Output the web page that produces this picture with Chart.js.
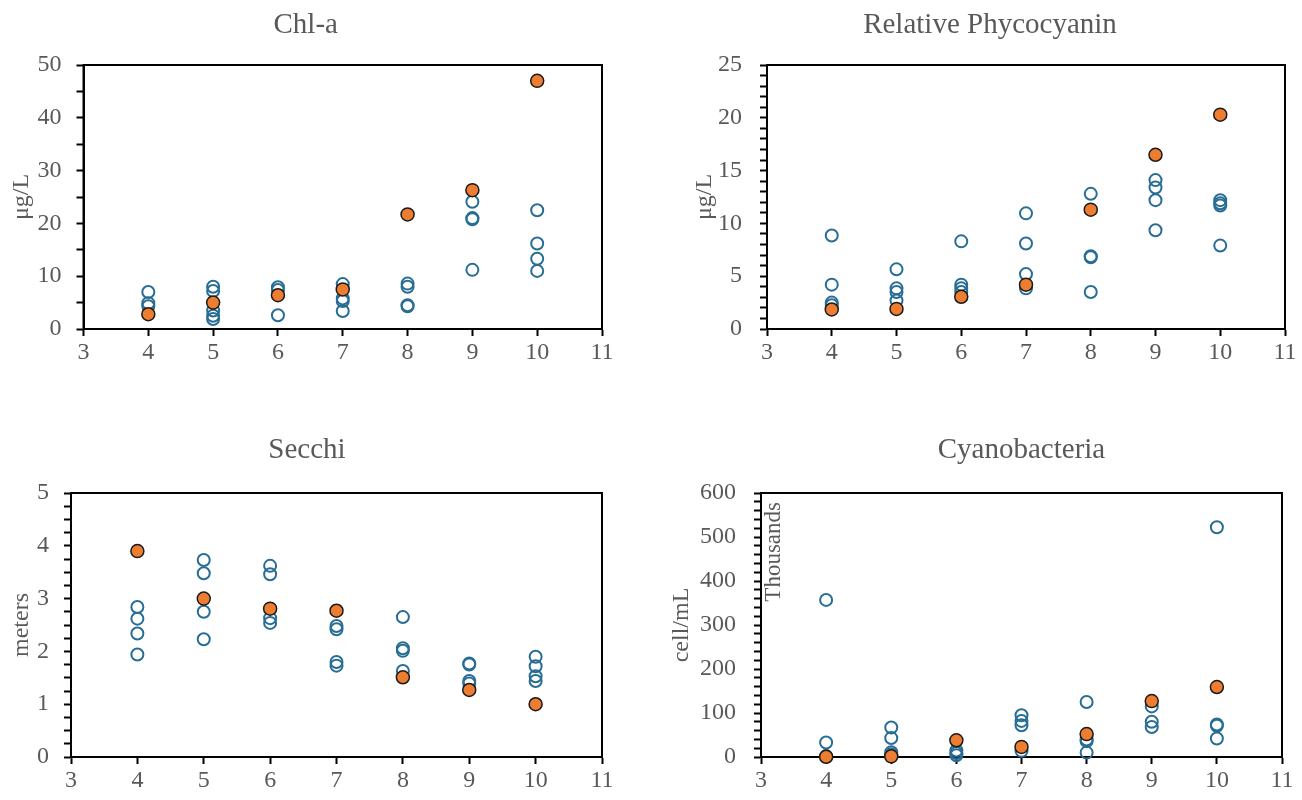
<!DOCTYPE html>
<html>
<head>
<meta charset="utf-8">
<script src="https://cdn.jsdelivr.net/npm/chart.js@4.4.1/dist/chart.umd.min.js"></script>
<style>
  html, body { margin: 0; padding: 0; background: #fff; }
  body { width: 1302px; height: 800px; position: relative; overflow: hidden; }
  .panel { position: absolute; width: 651px; height: 400px; }
</style>
</head>
<body>
<div class="panel" style="left:0;top:0"><canvas id="chla" width="651" height="400"></canvas></div>
<div class="panel" style="left:651px;top:0"><canvas id="phyco" width="651" height="400"></canvas></div>
<div class="panel" style="left:0;top:400px"><canvas id="secchi" width="651" height="400"></canvas></div>
<div class="panel" style="left:651px;top:400px"><canvas id="cyano" width="651" height="400"></canvas></div>
<script>
const months = [4, 5, 6, 7, 8, 9, 10];
const xTicks = [3, 4, 5, 6, 7, 8, 9, 10, 11];

// Chl-a, ug/L  (open = other samples per month, lake = filled orange)
const chlaSamples = [
  [7.0, 4.9, 4.3],
  [8.0, 7.2, 3.5, 2.5, 1.9],
  [7.9, 7.4, 2.6],
  [8.5, 5.8, 5.3, 3.4],
  [8.6, 8.0, 4.5, 4.3],
  [24.1, 21.0, 20.8, 11.2],
  [22.5, 16.2, 13.3, 11.0]
];
const chlaLake = [2.8, 5.0, 6.4, 7.5, 21.7, 26.3, 47.0];

// Relative Phycocyanin, ug/L
const phycoSamples = [
  [8.85, 4.2, 2.5, 2.25],
  [5.65, 3.85, 3.5, 2.7],
  [8.3, 4.2, 3.85, 3.5],
  [10.95, 8.1, 5.2, 3.85],
  [12.8, 6.9, 6.8, 3.5],
  [14.1, 13.4, 12.2, 9.35],
  [12.2, 11.9, 11.7, 7.9]
];
const phycoLake = [1.85, 1.9, 3.05, 4.2, 11.3, 16.5, 20.3];

// Secchi depth, meters
const secchiSamples = [
  [2.84, 2.62, 2.34, 1.94],
  [3.73, 3.48, 2.75, 2.23],
  [3.62, 3.46, 2.63, 2.54],
  [2.48, 2.42, 1.80, 1.73],
  [2.65, 2.06, 2.01, 1.63],
  [1.77, 1.75, 1.44, 1.39],
  [1.90, 1.72, 1.53, 1.44]
];
const secchiLake = [3.9, 3.0, 2.81, 2.77, 1.51, 1.27, 1.0];

// Cyanobacteria, thousands of cells/mL
const cyanoSamples = [
  [357, 33, 2],
  [67, 43, 11, 6],
  [15, 9, 4],
  [95, 82, 72, 14],
  [125, 40, 36, 10],
  [115, 80, 68],
  [522, 74, 71, 42]
];
const cyanoLake = [0.5, 1.5, 38, 23, 52, 127, 159];

const GRAY = '#595959';
const BLUE = '#276d94';
const ORANGE = '#ed7d31';
const TITLE_SIZE = 29;
const AXIS_TITLE_SIZE = 24;

Chart.defaults.font.family = "'Liberation Serif', 'Times New Roman', serif";
Chart.defaults.color = GRAY;

// box around the plot area + optional unit label inside it
const framePlugin = {
  id: 'frame',
  beforeDatasetsDraw(chart, args, opts) {
    const { ctx, chartArea: a } = chart;
    ctx.save();
    ctx.strokeStyle = '#000';
    ctx.lineWidth = 2;
    ctx.strokeRect(a.left, a.top, a.right - a.left, a.bottom - a.top);
    if (opts.unitLabel) {
      ctx.translate(a.left + 13, a.top + 9);
      ctx.rotate(-Math.PI / 2);
      ctx.font = "23px 'Liberation Serif', 'Times New Roman', serif";
      ctx.fillStyle = GRAY;
      ctx.textAlign = 'right';
      ctx.textBaseline = 'middle';
      ctx.fillText(opts.unitLabel, 0, 0);
    }
    ctx.restore();
  }
};

function toPoints(samples) {
  return months.flatMap((m, i) => samples[i].map(v => ({ x: m, y: v })));
}

function makeChart(id, c) {
  const cv = c.canvas;
  const yTitleLh = AXIS_TITLE_SIZE * 1.2;
  const padR = cv.left + cv.w - c.area.R;
  // full-width title is centred between the paddings; otherwise over the plot area
  const padL = c.titleOverArea
    ? c.yTitleX - cv.left - yTitleLh / 2
    : 2 * (c.titleX - cv.left) - cv.w + padR;
  const yWidth = c.area.L - cv.left - padL;
  const xHeight = cv.top + cv.h - c.area.B;
  const titleLh = TITLE_SIZE * 1.2;
  const titleTop = c.titleY - cv.top - titleLh / 2;
  const titleBottom = c.area.T - cv.top - titleTop - titleLh;
  const yTitlePad = c.yTitleX - (cv.left + padL) - yTitleLh / 2;

  return new Chart(document.getElementById(id), {
    type: 'scatter',
    data: {
      datasets: [
        {
          label: 'lake',
          data: months.map((m, i) => ({ x: m, y: c.lake[i] })),
          pointRadius: 6.5,
          pointBackgroundColor: ORANGE,
          pointBorderColor: '#1a1a1a',
          pointBorderWidth: 1.5,
          clip: false
        },
        {
          label: 'samples',
          data: toPoints(c.samples),
          pointRadius: 6,
          pointBackgroundColor: 'rgba(0,0,0,0)',
          pointBorderColor: BLUE,
          pointBorderWidth: 2,
          clip: false
        }
      ]
    },
    options: {
      responsive: false,
      animation: false,
      events: [],
      layout: { padding: { left: padL, right: padR, top: 0, bottom: 0 } },
      plugins: {
        legend: { display: false },
        tooltip: { enabled: false },
        title: {
          display: true,
          text: c.title,
          color: GRAY,
          fullSize: !c.titleOverArea,
          font: { size: TITLE_SIZE, weight: 'normal' },
          padding: { top: titleTop, bottom: titleBottom }
        },
        frame: { unitLabel: c.unitLabel || '' }
      },
      scales: {
        x: {
          type: 'linear',
          min: 3,
          max: 11,
          afterFit: s => { s.height = xHeight; },
          afterBuildTicks: s => { s.ticks = xTicks.map(v => ({ value: v })); },
          border: { color: '#000', width: 2 },
          grid: { drawOnChartArea: false, color: '#000', tickLength: 7, tickWidth: 2 },
          ticks: { color: GRAY, font: { size: 24 }, padding: 2, autoSkip: false, maxRotation: 0 }
        },
        y: {
          min: 0,
          max: c.yMax,
          afterFit: s => { s.width = yWidth; },
          border: { color: '#000', width: 2 },
          grid: { drawOnChartArea: false, color: '#000', tickLength: 7, tickWidth: 2 },
          ticks: {
            stepSize: c.yStep,
            autoSkip: false,
            color: GRAY,
            font: { size: 24 },
            padding: c.tickPad,
            callback: v => {
              const r = v / c.yLabelEvery;
              return Math.abs(r - Math.round(r)) < 1e-6 ? v : '';
            }
          },
          title: {
            display: true,
            text: c.yTitle,
            color: GRAY,
            font: { size: AXIS_TITLE_SIZE },
            padding: { top: yTitlePad, bottom: 0 }
          }
        }
      }
    },
    plugins: [framePlugin]
  });
}

makeChart('chla', {
  canvas: { left: 0, top: 0, w: 651, h: 400 },
  area: { L: 83.5, T: 65, R: 602, B: 329 },
  titleX: 305.7, titleY: 25, yTitleX: 22,
  title: 'Chl-a', yTitle: 'μg/L',
  yMax: 50, yStep: 5, yLabelEvery: 10, tickPad: 15,
  samples: chlaSamples, lake: chlaLake
});

makeChart('phyco', {
  canvas: { left: 651, top: 0, w: 651, h: 400 },
  area: { L: 767, T: 65, R: 1285, B: 329 },
  titleX: 990, titleY: 25, yTitleX: 705,
  title: 'Relative Phycocyanin', yTitle: 'μg/L',
  yMax: 25, yStep: 1, yLabelEvery: 5, tickPad: 18,
  samples: phycoSamples, lake: phycoLake
});

makeChart('secchi', {
  canvas: { left: 0, top: 400, w: 651, h: 400 },
  area: { L: 71, T: 493, R: 602, B: 757 },
  titleX: 307, titleY: 450, yTitleX: 22,
  title: 'Secchi', yTitle: 'meters',
  yMax: 5, yStep: 0.25, yLabelEvery: 1, tickPad: 15,
  samples: secchiSamples, lake: secchiLake
});

makeChart('cyano', {
  canvas: { left: 651, top: 400, w: 651, h: 400 },
  area: { L: 761, T: 493, R: 1282, B: 757 },
  titleOverArea: true, titleY: 450, yTitleX: 682,
  title: 'Cyanobacteria', yTitle: 'cell/mL', unitLabel: 'Thousands',
  yMax: 600, yStep: 20, yLabelEvery: 100, tickPad: 18,
  samples: cyanoSamples, lake: cyanoLake
});
</script>
</body>
</html>
